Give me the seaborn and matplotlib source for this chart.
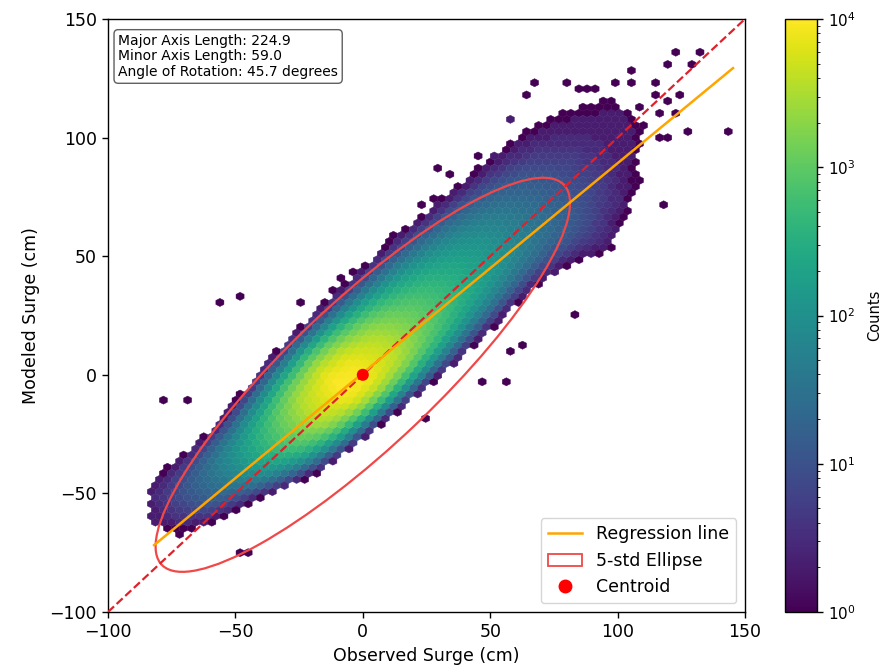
import numpy as np
import matplotlib
matplotlib.use("Agg")
import matplotlib.pyplot as plt
import seaborn as sns
from matplotlib.colors import LogNorm
from matplotlib.patches import Ellipse, Patch
from matplotlib.lines import Line2D

# ---------------- data ----------------
# cloud profile along the ellipse major axis (u) : across-axis extents (v), cm
u_knots  = [-102, -95, -85, -70, -55, -40, -25, -10, 0, 15, 30, 45, 60, 75, 90, 105, 120, 135, 152]
v_top    = [22, 27, 28, 27, 27, 29, 31, 32, 32, 32, 32, 32, 31, 30, 29, 28, 26, 21, 12]
v_bot    = [12, 3, -2, -6, -12, -17, -19, -20, -21, -22, -23, -23, -23, -23, -26, -33, -28, -18, -6]
v_ridge  = [18, 14, 12, 9, 6, 4, 3, 2, 1, 0, 0, 0, 0, 0, 0, -1, -3, -2, 2]
log_peak = [0.2, 0.55, 1.0, 1.6, 2.3, 2.95, 3.6, 4.0, 3.95, 3.6, 3.1, 2.7, 2.35, 2.0, 1.6, 1.2, 0.8, 0.4, 0.15]

# isolated single-count hexes
out_x = [-55.6, -47.8, -77.6, -69.0, -48.2, -44.3, 83.3, -23.5, -12.1, -8.9, -2.3,
         68.9, 64.3, 80.0, 83.9, 88.1, 92.4, 99.0, 105.5, 106.2, 114.0, 124.2, 133.0,
         127.8, 120.6, 125.1, 114.0, 118.6, 123.2, 116.0, 108.8, 110.1, 126.5, 144.5,
         116.6, 118.6, 118.6, 108.8, 106.2, 102.2, 59.1, 56.5,
         46.0, 55.1, 57.8, 61.7, 23.7, 29.0, 23.7, 27.6, 10.7, 46.0, 51.2, 35.5, -73.3]
out_y = [30.7, 32.8, -9.4, -9.4, -73.9, -73.9, 24.0, 29.4, 34.5, 42.1, 43.8,
         122.9, 119.1, 122.9, 120.4, 120.4, 120.4, 124.3, 122.9, 128.2, 122.9, 135.5, 135.5,
         130.3, 130.3, 119.1, 119.1, 115.9, 111.6, 111.6, 111.6, 104.6, 102.5, 102.5,
         100.4, 100.4, 71.3, 83.5, 79.3, 75.1, 107.4, 107.4,
         -2.2, -2.2, 10.5, 11.9, -17.7, 87.7, 72.3, 73.7, 58.2, 92.7, 92.7, 84.2, -68.0]

reg_x = [-81.9, 145.3]
reg_y = [-71.8, 129.3]
one_to_one = [-100, 150]
centroid = (0.0, 0.0)
ell_major, ell_minor, ell_angle = 224.9, 59.0, 45.7
data_extent = (-83.0, 145.0, -75.0, 136.0)

# ---------------- build hex counts ----------------
nx = 72
ny = int(nx / np.sqrt(3))
xmin, xmax, ymin, ymax = data_extent
sx = (xmax - xmin) / nx
sy = (ymax - ymin) / ny
i1, j1 = np.meshgrid(np.arange(nx + 1), np.arange(ny + 1))
i2, j2 = np.meshgrid(np.arange(nx), np.arange(ny))
cx = np.concatenate([xmin + i1.ravel() * sx, xmin + (i2.ravel() + 0.5) * sx])
cy = np.concatenate([ymin + j1.ravel() * sy, ymin + (j2.ravel() + 0.5) * sy])

th = np.deg2rad(ell_angle)
cu = (cx - centroid[0]) * np.cos(th) + (cy - centroid[1]) * np.sin(th)
cv = -(cx - centroid[0]) * np.sin(th) + (cy - centroid[1]) * np.cos(th)
top = np.interp(cu, u_knots, v_top)
bot = np.interp(cu, u_knots, v_bot)
mid = np.interp(cu, u_knots, v_ridge)
pk = np.interp(cu, u_knots, log_peak)
r = np.where(cv >= mid, (cv - mid) / (top - mid), (mid - cv) / (mid - bot))
inside = (r < 1) & (cu >= u_knots[0]) & (cu <= u_knots[-1])
logc = pk * (1 - r ** 2.5)
cnt = np.maximum(np.round(10 ** logc), 1)

hx = np.concatenate([cx[inside], out_x])
hy = np.concatenate([cy[inside], out_y])
hc = np.concatenate([cnt[inside], np.ones(len(out_x))])

# ---------------- figure ----------------
plt.rcParams.update({
    "font.family": ["DejaVu Sans"],
    "font.size": 12.5,
    "axes.linewidth": 1.0,
    "xtick.major.size": 4.4,
    "ytick.major.size": 4.4,
    "xtick.major.width": 1.0,
    "ytick.major.width": 1.0,
})
fig = plt.figure(figsize=(8.81, 6.68), dpi=100)
ax = fig.add_axes([108 / 881, 56 / 668, 637 / 881, 593 / 668])
cax = fig.add_axes([785 / 881, 56 / 668, 32 / 881, 593 / 668])

hb = ax.hexbin(hx, hy, C=hc, gridsize=nx, extent=data_extent,
               reduce_C_function=np.sum, cmap="viridis",
               norm=LogNorm(vmin=1, vmax=1e4), linewidths=0.3, edgecolors="face")

ell = Ellipse(centroid, width=ell_major, height=ell_minor, angle=ell_angle,
              edgecolor="#f04848", facecolor="none", linewidth=1.6, zorder=3)
ax.add_patch(ell)

sns.lineplot(x=one_to_one, y=one_to_one, ax=ax, color="#e0202a",
             linestyle="--", linewidth=1.6, zorder=4)
sns.lineplot(x=reg_x, y=reg_y, ax=ax, color="orange", linewidth=1.8, zorder=5)
sns.scatterplot(x=[centroid[0]], y=[centroid[1]], ax=ax, color="red", s=75,
                edgecolor="none", zorder=6)

ax.set_xlim(-100, 150)
ax.set_ylim(-100, 150)
ax.set_xticks([-100, -50, 0, 50, 100, 150])
ax.set_yticks([-100, -50, 0, 50, 100, 150])
ax.set_xlabel("Observed Surge (cm)")
ax.set_ylabel("Modeled Surge (cm)", labelpad=7)

ax.text(0.016, 0.975,
        f"Major Axis Length: {ell_major:.1f}\nMinor Axis Length: {ell_minor:.1f}\n"
        f"Angle of Rotation: {ell_angle:.1f} degrees",
        transform=ax.transAxes, fontsize=10, va="top", ha="left", linespacing=1.15,
        bbox=dict(boxstyle="round,pad=0.3", facecolor="white", edgecolor="0.3", alpha=0.9))

handles = [Line2D([], [], color="orange", linewidth=1.8),
           Patch(facecolor="none", edgecolor="#f04848", linewidth=1.3),
           Line2D([], [], color="red", marker="o", linestyle="none", markersize=9)]
ax.legend(handles, ["Regression line", "5-std Ellipse", "Centroid"], loc="lower right",
          fontsize=12.5)

cb = fig.colorbar(hb, cax=cax)
cb.ax.tick_params(labelsize=11)
cb.set_label("Counts", fontsize=10.5, labelpad=8)

fig.savefig("out.png", dpi=100)
